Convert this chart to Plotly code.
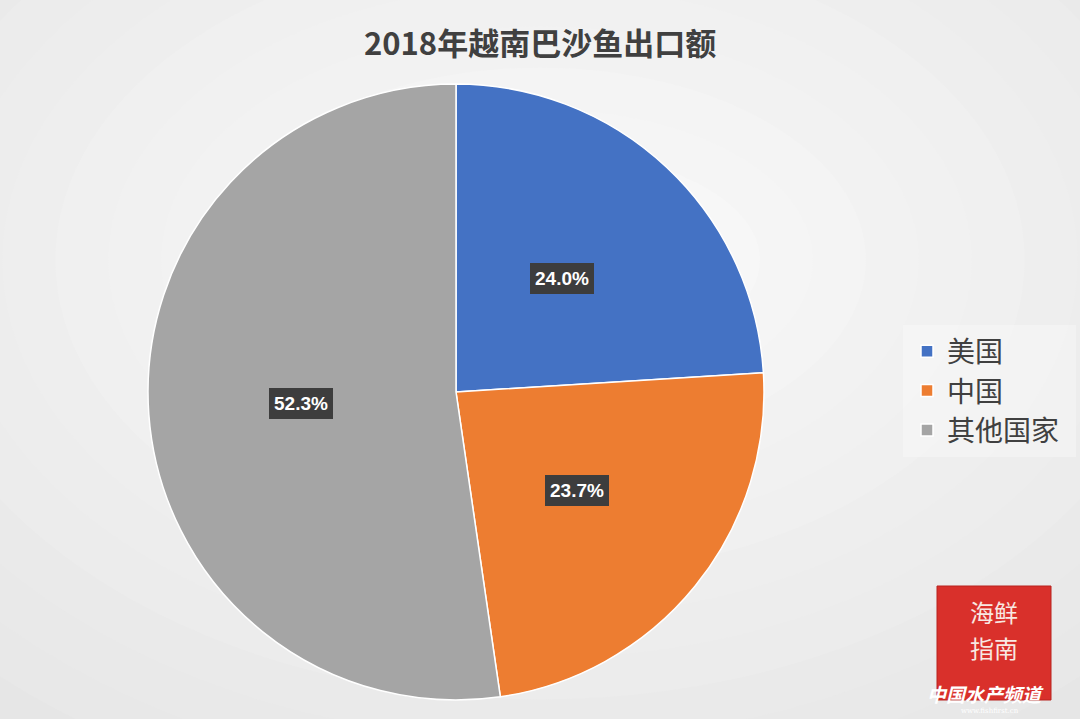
import math
import plotly.graph_objects as go

categories = ["美国", "中国", "其他国家"]
shares = [24.0, 23.7, 52.3]
colors = ["#4472C4", "#ED7D31", "#A5A5A5"]
title_text = "2018年越南巴沙鱼出口额"
logo_lines = ["海鲜", "指南"]

W, H = 1080, 719
cx, cy, R = 456, 392, 308  # pixel centre (from top) and radius

dom_x = [(cx - R) / W, (cx + R) / W]
dom_y = [(H - cy - R) / H, (H - cy + R) / H]

fig = go.Figure()
fig.add_trace(go.Pie(
    labels=categories, values=shares, sort=False, direction="clockwise",
    rotation=0, marker=dict(colors=colors, line=dict(color="white", width=1.5)),
    textinfo="none", hoverinfo="label+percent",
    domain=dict(x=dom_x, y=dom_y),
))

shapes = []
# soft radial background
n = 18
for i in range(n):
    t = i / (n - 1)
    g = int(224 + (247 - 224) * t)
    rx = 900 * (1 - t) + 220
    ry = 700 * (1 - t) + 110
    ecx, ecy = 540, 260
    shapes.append(dict(type="circle", xref="paper", yref="paper", layer="below",
                       x0=(ecx - rx) / W, x1=(ecx + rx) / W,
                       y0=(H - ecy - ry) / H, y1=(H - ecy + ry) / H,
                       fillcolor=f"rgb({g},{g},{g})", line=dict(width=0)))
# legend backdrop
shapes.append(dict(type="rect", xref="paper", yref="paper", layer="below",
                   x0=903 / W, x1=1076 / W, y0=(H - 457) / H, y1=(H - 325) / H,
                   fillcolor="rgba(255,255,255,0.3)", line=dict(width=0)))
# logo square
shapes.append(dict(type="rect", xref="paper", yref="paper", layer="above",
                   x0=937 / W, x1=1051 / W, y0=(H - 700) / H, y1=(H - 586) / H,
                   fillcolor="#D9302B", line=dict(color="#B8221E", width=1)))

annotations = []
total = sum(shares)
start = 0.0
for v in shares:
    mid = start + v / total * 360 / 2
    start += v / total * 360
    th = math.radians(mid)
    r = 0.505 * R
    px = cx + r * math.sin(th)
    py = cy - r * math.cos(th)
    annotations.append(dict(x=px / W, y=(H - py) / H, xref="paper", yref="paper",
                            xanchor="center", yanchor="middle",
                            text=f"<b>{v:.1f}%</b>", showarrow=False,
                            font=dict(family="Liberation Sans, Arial", size=19, color="white"),
                            bgcolor="#3d3d3d", borderpad=5, borderwidth=0))

annotations.append(dict(x=540 / W, y=(H - 42) / H, xref="paper", yref="paper",
                        xanchor="center", yanchor="middle",
                        text=f"<b>{title_text}</b>", showarrow=False,
                        font=dict(family="Noto Sans CJK SC", size=31, color="#404040")))
# logo text
for i, line in enumerate(logo_lines):
    annotations.append(dict(x=994 / W, y=(H - (611 + 36 * i)) / H, xref="paper", yref="paper",
                            xanchor="center", yanchor="middle",
                            text=line, showarrow=False,
                            font=dict(family="Noto Sans CJK SC", size=24, color="#F8E8E2")))
annotations.append(dict(x=985 / W, y=(H - 693) / H, xref="paper", yref="paper",
                        xanchor="center", yanchor="middle",
                        text="<b><i>中国水产频道</i></b>", showarrow=False,
                        font=dict(family="Noto Sans CJK SC", size=19, color="white")))
annotations.append(dict(x=990 / W, y=(H - 711) / H, xref="paper", yref="paper",
                        xanchor="center", yanchor="middle",
                        text="www.fishfirst.cn", showarrow=False,
                        font=dict(family="DejaVu Serif", size=7, color="white")))

fig.update_layout(
    width=W, height=H,
    margin=dict(l=0, r=0, t=0, b=0),
    paper_bgcolor="#e3e3e3", plot_bgcolor="#e3e3e3",
    showlegend=True,
    legend=dict(x=907 / W, y=(H - 391) / H, xanchor="left", yanchor="middle",
                font=dict(family="Noto Sans CJK SC", size=28, color="#404040"),
                bgcolor="rgba(0,0,0,0)", itemwidth=30,
                tracegroupgap=0),
    shapes=shapes, annotations=annotations,
)

fig.write_html("out.html", config={"displayModeBar": False},
               post_script="document.body.style.margin='0';")
